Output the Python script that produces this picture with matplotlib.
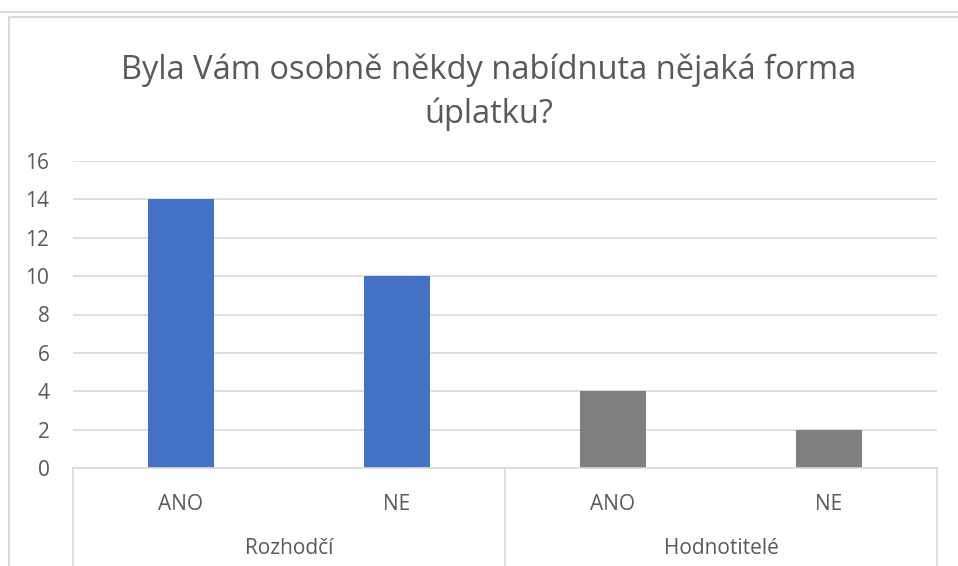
"""Grouped bar chart: offered bribe (Rozhodčí / Hodnotitelé)."""

import matplotlib
matplotlib.use("Agg")
import matplotlib.pyplot as plt
from matplotlib.lines import Line2D

# Data
groups = ["Rozhodčí", "Hodnotitelé"]
answers = ["ANO", "NE", "ANO", "NE"]
counts = [14, 10, 4, 2]
bar_colors = ["#4472C4", "#4472C4", "#7F7F7F", "#7F7F7F"]
y_ticks = [0, 2, 4, 6, 8, 10, 12, 14, 16]

TEXT = "#595959"
GRID = "#D9D9D9"
FONT = "Open Sans"

W, H = 958, 566
fig = plt.figure(figsize=(W / 100, H / 100), dpi=100)
fig.patch.set_facecolor("white")

def px_x(x):
    return x / W

def px_y(y):
    return 1 - y / H

# outer frame lines (like the spreadsheet screenshot)
fig.add_artist(Line2D([0, 1], [px_y(11.5), px_y(11.5)], color=GRID, lw=1.5))
fig.add_artist(Line2D([px_x(9), 1], [px_y(16.5), px_y(16.5)], color=GRID, lw=1.5))
fig.add_artist(Line2D([px_x(9), px_x(9)], [px_y(16.5), 0], color=GRID, lw=1.5))

ax = fig.add_axes([px_x(73), px_y(468), px_x(937) - px_x(73), px_y(161) - px_y(468)])

x = list(range(len(counts)))
ax.bar(x, counts, width=0.31, color=bar_colors, zorder=3)

ax.set_xlim(-0.5, len(counts) - 0.5)
ax.set_ylim(0, 16)
ax.set_yticks(y_ticks)
ax.set_yticklabels([str(t) for t in y_ticks], fontsize=15, color=TEXT, family=FONT)
ax.tick_params(axis="y", length=0, pad=17)
ax.grid(axis="y", color=GRID, lw=1.2, zorder=0)

for s in ["top", "right", "left"]:
    ax.spines[s].set_visible(False)
ax.spines["bottom"].set_color(GRID)
ax.spines["bottom"].set_linewidth(1.2)
ax.spines["bottom"].set_zorder(4)

ax.set_xticks(x)
ax.set_xticklabels(answers, fontsize=15, color=TEXT, family=FONT)
ax.tick_params(axis="x", length=0, pad=19)

# multi-level category axis: group separators and group names
trans = ax.get_xaxis_transform()
depth = -(H - 468) / (468 - 161)
for xv in [-0.5, 1.5, 3.5]:
    ax.add_line(Line2D([xv, xv], [0, depth], transform=trans, color=GRID,
                       lw=1.2, clip_on=False))
for i, g in enumerate(groups):
    ax.text(2 * i + 0.5, -(548 - 468) / (468 - 161), g, transform=trans,
            ha="center", va="center", fontsize=15, color=TEXT, family=FONT)

fig.text(px_x(489), px_y(92), "Byla Vám osobně někdy nabídnuta nějaká forma\núplatku?",
         ha="center", va="center", fontsize=23.5, color=TEXT, family=FONT,
         linespacing=1.4)

fig.savefig("out.png", dpi=100)
